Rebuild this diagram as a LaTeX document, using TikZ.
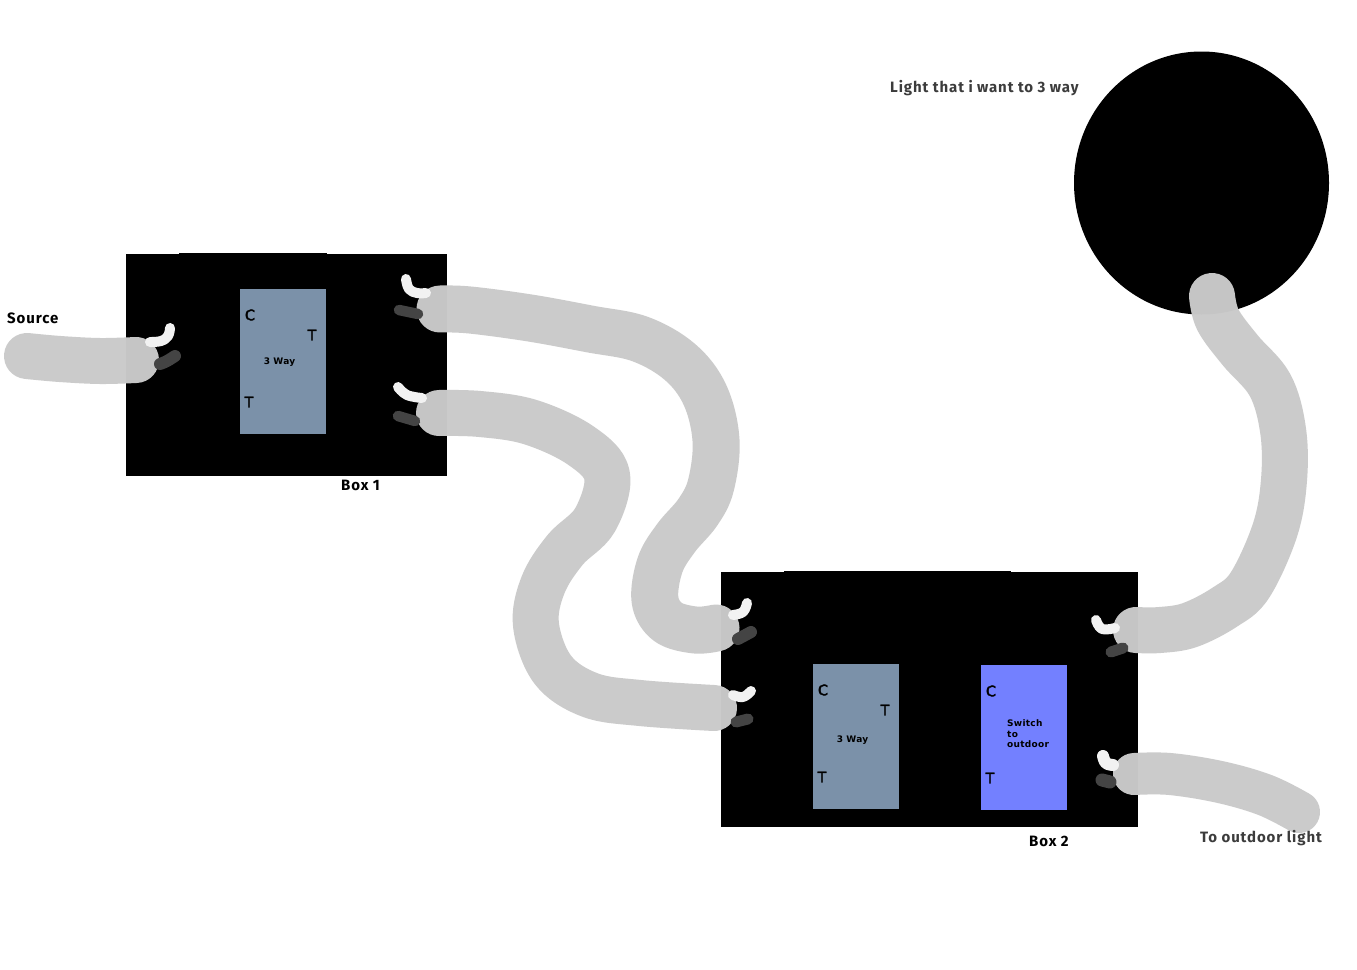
\documentclass[tikz,border=0pt]{standalone}
\usepackage{fontspec}
\setmainfont{DejaVu Sans}
\newfontfamily\labelfont[LetterSpace=6,BoldFont={Fira Sans Bold}]{Fira Sans}
\newfontfamily\termfont[FakeBold=2.5]{DejaVu Sans}
\newfontfamily\tinyfont[LetterSpace=3]{DejaVu Sans Bold}
\definecolor{cablegray}{HTML}{CACACA}
\definecolor{switchgray}{HTML}{7B91A9}
\definecolor{switchblue}{HTML}{7380FF}
\definecolor{whitewire}{HTML}{F2F2F2}
\definecolor{darkwire}{HTML}{444444}
\definecolor{labelgray}{HTML}{3C3C3C}
\tikzset{
  boxfill/.style={fill=black,draw=none},
  cable/.style={draw=cablegray,draw opacity=0.976,line width=46pt,line cap=round,line join=round},
  wwire/.style={draw=whitewire,line width=10pt,line cap=round,line join=round},
  dwire/.style={draw=darkwire,line width=10.5pt,line cap=round,line join=round},
  biglabel/.style={font=\labelfont\bfseries\fontsize{15}{15}\selectfont,inner sep=0pt,anchor=base west},
  term/.style={font=\termfont\fontsize{14.5}{14.5}\selectfont,text=black,inner sep=0pt},
  tiny/.style={font=\tinyfont\fontsize{9}{10.5}\selectfont,text=black,inner sep=0pt}
}
\begin{document}
\begin{tikzpicture}[x=1pt,y=-1pt]
\useasboundingbox (0,0) rectangle (1357,969);
\fill[white] (0,0) rectangle (1357,969);
% boxes
\path[boxfill] (126,254) rectangle (447,476);
\path[boxfill] (179,253) rectangle (327,255);
\path[boxfill] (721,572) rectangle (1138,827);
\path[boxfill] (784,571) rectangle (1011,573);
\path[boxfill] (1201.5,183) ellipse [x radius=127.5,y radius=131.5];
% switches
\node[fill=switchgray,draw=none,minimum width=86pt,minimum height=145pt,inner sep=0pt] (sw1) at (283,361.5) {};
\node[fill=switchgray,draw=none,minimum width=86pt,minimum height=145pt,inner sep=0pt] (sw2) at (856,736.5) {};
\node[fill=switchblue,draw=none,minimum width=86pt,minimum height=145pt,inner sep=0pt] (sw3) at (1024,737.5) {};
% cables
\draw[cable,line width=46pt] plot[smooth,tension=0.6] coordinates {(27,356) (60,359) (100,361) (136,360)};
\draw[cable,line width=47pt] plot[smooth,tension=0.6] coordinates {(440,309) (470,310) (530,318) (590,329) (640,339) (680,362) (705,395) (716,440) (711,485) (698,512) (676,538) (660,565) (655,600) (668,622) (695,630) (716,628)};
\draw[cable,line width=46pt] plot[smooth,tension=0.6] coordinates {(439,413) (480,414) (530,422) (580,445) (607,475) (595,520) (565,550) (543,585) (536,625) (553,670) (590,695) (640,703) (714,708)};
\draw[cable,line width=46pt] plot[smooth,tension=0.6] coordinates {(1212,296) (1218,320) (1240,350) (1270,385) (1283,430) (1284,480) (1275,530) (1250,585) (1225,607) (1190,625) (1160,630) (1136,630)};
\draw[cable,line width=42pt] plot[smooth,tension=0.6] coordinates {(1134,774) (1170,774) (1220,782) (1265,795) (1299,812)};
% wires
\draw[wwire] plot[smooth,tension=0.7] coordinates {(150,342) (161,341) (168,336) (170,328)};
\draw[dwire,line width=12pt] plot[smooth,tension=0.7] coordinates {(160,364) (167,361) (175,356)};
\draw[wwire] plot[smooth,tension=0.7] coordinates {(406,279) (409,289) (417,293) (426,293)};
\draw[dwire] (399,310) -- (418,314);
\draw[wwire] plot[smooth,tension=0.7] coordinates {(398,387) (407,395) (422,398)};
\draw[dwire] (398,416) -- (415,421);
\draw[wwire] plot[smooth,tension=0.7] coordinates {(733,615) (743,612) (747,603)};
\draw[dwire,line width=12pt] (738,639) -- (751,632);
\draw[wwire] plot[smooth,tension=0.7] coordinates {(733,695) (743,697) (751,691)};
\draw[dwire,line width=11pt] (736,722) -- (748,719);
\draw[wwire] plot[smooth,tension=0.7] coordinates {(1096,620) (1102,629) (1115,628)};
\draw[dwire,line width=11pt] (1111,652) -- (1123,648);
\draw[wwire,line width=12pt] plot[smooth,tension=0.7] coordinates {(1103,756) (1106,763) (1113,765)};
\draw[dwire,line width=13pt] (1102,780) -- (1110,782);
% labels
\node[biglabel,text=black] (src) at (7,323) {Source};
\node[biglabel,text=black] (b1) at (341,490) {Box 1};
\node[biglabel,text=black] (b2) at (1029,846) {Box 2};
\node[biglabel,text=labelgray] (lt) at (890,92) {Light that i want to 3 way};
\node[biglabel,text=labelgray] (od) at (1200,842) {To outdoor light};
\node[term] (c1) at (250,315) {C};
\node[term] (t1a) at (312,335) {T};
\node[term] (t1b) at (249,402) {T};
\node[tiny] (w1) at (279.5,361.7) {3 Way};
\node[term] (c2) at (823,690) {C};
\node[term] (t2a) at (885,710) {T};
\node[term] (t2b) at (822,777) {T};
\node[tiny] (w2) at (852.5,739.7) {3 Way};
\node[term] (c3) at (991,691) {C};
\node[term] (t3) at (990,778) {T};
\node[tiny,align=left,anchor=north west] (w3) at (1007,719.5) {Switch\\to\\outdoor};
\end{tikzpicture}
\end{document}
